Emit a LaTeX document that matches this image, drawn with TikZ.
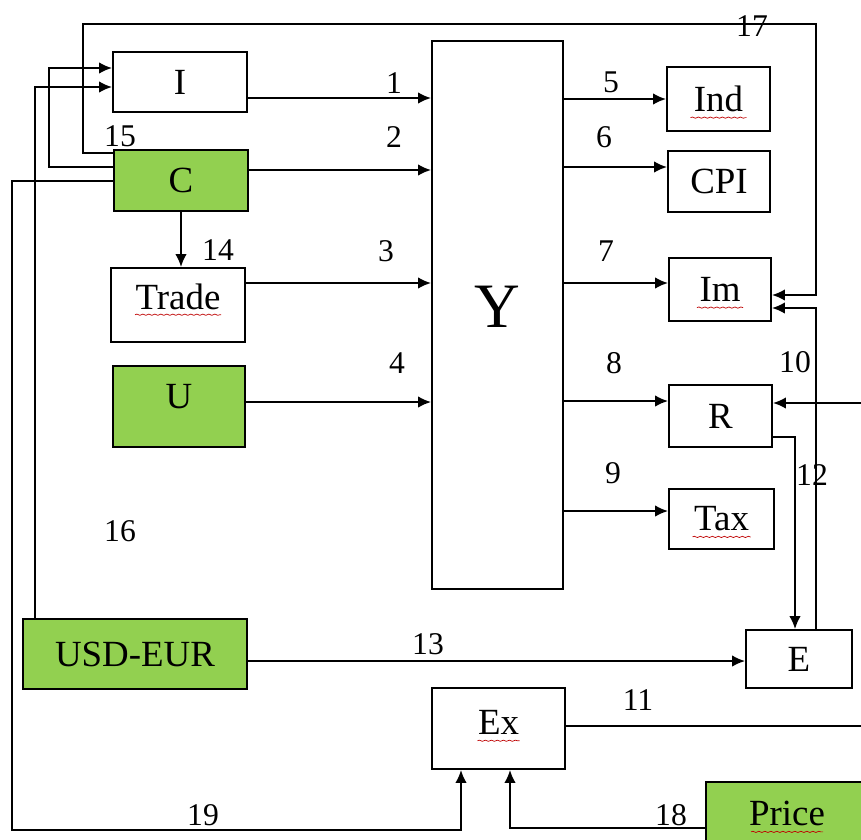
\documentclass[tikz,border=0pt]{standalone}
\usepackage{fontspec}
\setmainfont{Liberation Serif}
\usetikzlibrary{arrows.meta,positioning,decorations.pathmorphing}
\definecolor{cgreen}{RGB}{146,208,80}

\begin{document}
\begin{tikzpicture}[
  x=0.02cm, y=-0.02cm,
  font=\fontsize{21}{24}\selectfont,
  box/.style={draw, line width=1.1pt, inner sep=0pt, fill=white},
  gbox/.style={box, fill=cgreen},
  num/.style={font=\fontsize{18}{20}\selectfont, inner sep=0pt},
  ar/.style={-{Latex[length=2.6mm,width=2.3mm]}, line width=1pt},
  ln/.style={line width=1pt},
  spell/.style={red!75!black, line width=0.4pt, decorate, decoration={snake, amplitude=0.35pt, segment length=1.2mm}},
]
\useasboundingbox (0,0) rectangle (861,839);
\clip (0,0) rectangle (861,839);

% ---- left column ----
\node[box, minimum width=2.68cm, minimum height=1.2cm] (I) at (180,82) {I};
\node[gbox, minimum width=2.68cm, minimum height=1.22cm] (C) at (181,180.5) {C};
\node[box, minimum width=2.68cm, minimum height=1.48cm] (Trade) at (178,305) {\raisebox{9pt}{Trade}};
\node[gbox, minimum width=2.64cm, minimum height=1.62cm] (U) at (179,406.5) {\raisebox{12pt}{U}};
\node[gbox, minimum width=4.48cm, minimum height=1.4cm] (USD) at (135,654) {USD-EUR};

% ---- centre ----
\node[box, minimum width=2.62cm, minimum height=10.96cm, font=\fontsize{36}{40}\selectfont] (Y) at (497.5,315) {\raisebox{9pt}{Y}};
\node[box, minimum width=2.66cm, minimum height=1.62cm] (Ex) at (498.5,728.5) {\raisebox{7pt}{Ex}};

% ---- right column ----
\node[box, minimum width=2.06cm, minimum height=1.28cm] (Ind) at (718.5,99) {Ind};
\node[box, minimum width=2.04cm, minimum height=1.22cm] (CPI) at (719,181.5) {CPI};
\node[box, minimum width=2.04cm, minimum height=1.26cm] (Im) at (720,289.5) {Im};
\node[box, minimum width=2.06cm, minimum height=1.24cm] (R) at (720.5,416) {R};
\node[box, minimum width=2.1cm, minimum height=1.2cm] (Tax) at (721.5,519) {Tax};
\node[box, minimum width=2.12cm, minimum height=1.16cm] (E) at (799,659) {E};
\node[gbox, minimum width=3.24cm, minimum height=1.36cm] (Price) at (787,816) {\raisebox{3pt}{Price}};

% ---- spelling marks ----
\draw[spell] (Trade.base) ++(-43,-11) -- ++(86,0);
\draw[spell] (Ind.base) ++(-28,6) -- ++(56,0);
\draw[spell] (Im.base) ++(-23,6) -- ++(46,0);
\draw[spell] (Tax.base) ++(-29,6) -- ++(58,0);
\draw[spell] (Ex.base) ++(-21,-6) -- ++(42,0);
\draw[spell] (Price.base) ++(-36,1) -- ++(72,0);

% ---- inputs of Y ----
\draw[ar] (I.east |- 0,98) -- (Y.west |- 0,98);
\draw[ar] (C.east |- 0,170) -- (Y.west |- 0,170);
\draw[ar] (Trade.east |- 0,283) -- (Y.west |- 0,283);
\draw[ar] (U.east |- 0,402) -- (Y.west |- 0,402);

% ---- outputs of Y ----
\draw[ar] (Y.east |- Ind.west) -- (Ind.west);
\draw[ar] (Y.east |- 0,167) -- (CPI.west |- 0,167);
\draw[ar] (Y.east |- 0,283) -- (Im.west |- 0,283);
\draw[ar] (Y.east |- 0,401) -- (R.west |- 0,401);
\draw[ar] (Y.east |- 0,511) -- (Tax.west |- 0,511);

% ---- feedback lines ----
\draw[ar] (C.south) -- (C.south |- Trade.north);
\draw[ar] (C.west |- 0,153) -| (83,24) -| (816,295) -- (Im.east |- 0,295);
\draw[ar] (C.west |- 0,167) -| (49,68) -- (I.west |- 0,68);
\draw[ar] (USD.north -| 35,0) |- (I.west |- 0,87);
\draw[ar] (C.west |- 0,181) -| (12,830) -| (Ex.south -| 461,0);
\draw[ar] (Price.west |- 0,828) -| (Ex.south -| 510,0);
\draw[ar] (USD.east |- 0,661) -- (E.west |- 0,661);
\draw[ar] (R.east |- 0,437) -| (E.north -| 795,0);
\draw[ar] (E.north -| 816,0) |- (Im.east |- 0,308);
\coordinate (in10) at (870,403);
\draw[ar] (in10) -- (R.east |- in10);
\coordinate (out11) at (870,726);
\draw[ln] (Ex.east |- out11) -- (out11);

% ---- numbers ----
\node[num] (n1) at (394,83) {1};
\node[num] (n2) at (394,137) {2};
\node[num] (n3) at (386,251) {3};
\node[num] (n4) at (397,363) {4};
\node[num] (n5) at (611,82) {5};
\node[num] (n6) at (604,137) {6};
\node[num] (n7) at (606,251) {7};
\node[num] (n8) at (614,363) {8};
\node[num] (n9) at (613,473) {9};
\node[num] (n10) at (795,362) {10};
\node[num] (n11) at (638,700) {11};
\node[num] (n12) at (812,475) {12};
\node[num] (n13) at (428,644) {13};
\node[num] (n14) at (218,250) {14};
\node[num] (n15) at (120,136) {15};
\node[num] (n16) at (120,531) {16};
\node[num] (n17) at (752,26) {17};
\node[num] (n18) at (671,815) {18};
\node[num] (n19) at (203,815) {19};
\end{tikzpicture}
\end{document}
